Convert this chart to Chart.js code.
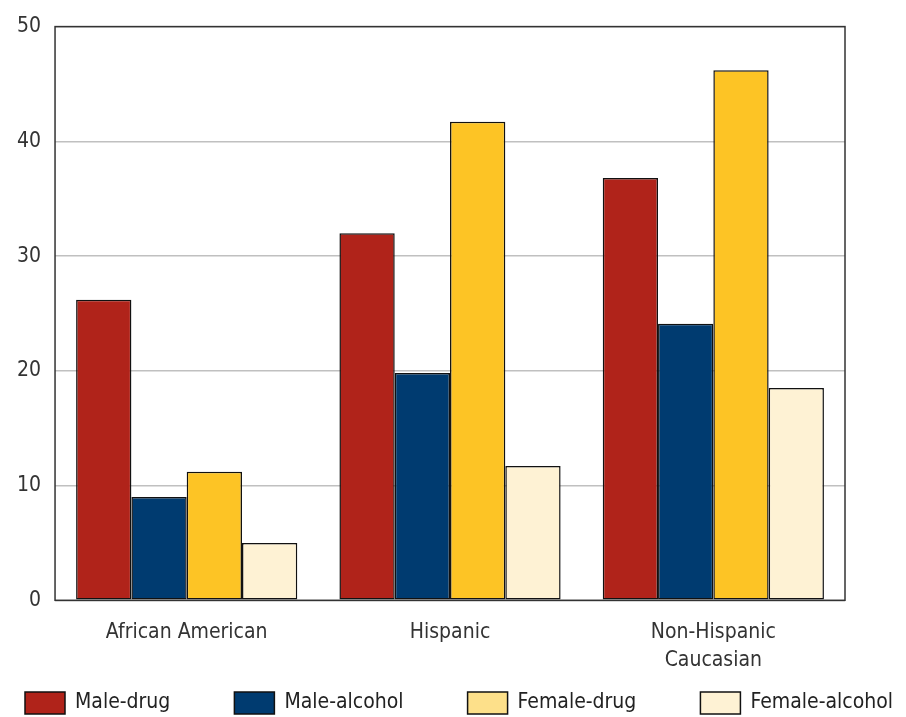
<!DOCTYPE html>
<html><head><meta charset="utf-8">
<script src="https://cdn.jsdelivr.net/npm/chart.js@4/dist/chart.umd.min.js"></script>
<style>html,body{margin:0;padding:0;background:#fff}#wrap{width:906px;height:717px;position:relative}</style>
</head><body><div id="wrap"><canvas id="c"></canvas></div>
<script>
const categories = ['African American', 'Hispanic', ['Non-Hispanic', 'Caucasian']];
const seriesNames = ['Male-drug', 'Male-alcohol', 'Female-drug', 'Female-alcohol'];
const maleDrug = [26.2, 32.0, 36.8];
const maleAlcohol = [9.0, 19.8, 24.1];
const femaleDrug = [11.2, 41.7, 46.2];
const femaleAlcohol = [5.0, 11.7, 18.5];
const yTicks = [0, 10, 20, 30, 40, 50];

const barColors = ['#b0231a', '#003b70', '#fdc425', '#fef2d4'];
const legendColors = ['#b0231a', '#003b70', '#fde08a', '#fef2d4'];
const FONT = '"Liberation Sans Narrow", "DejaVu Sans Condensed", "Roboto", sans-serif';

const frame = {
  id: 'frame',
  afterDatasetsDraw(chart) {
    const {ctx, chartArea: a} = chart;
    ctx.save();
    ctx.strokeStyle = '#333';
    ctx.lineWidth = 1.5;
    ctx.strokeRect(a.left, a.top, a.right - a.left, a.bottom - a.top);
    ctx.restore();
  }
};

const bottomLegend = {
  id: 'bottomLegend',
  afterDraw(chart) {
    const ctx = chart.ctx;
    ctx.save();
    ctx.font = '21px ' + FONT;
    const boxW = 40, boxH = 22, gapText = 10;
    const startX = 25, endX = 893, cy = 703;
    const widths = seriesNames.map(n => boxW + gapText + ctx.measureText(n).width);
    const total = widths.reduce((s, w) => s + w, 0);
    const gap = (endX - startX - total) / (seriesNames.length - 1);
    let x = startX;
    seriesNames.forEach((n, i) => {
      ctx.fillStyle = legendColors[i];
      ctx.fillRect(x, cy - boxH / 2, boxW, boxH);
      ctx.strokeStyle = '#111';
      ctx.lineWidth = 1.5;
      ctx.strokeRect(x, cy - boxH / 2, boxW, boxH);
      ctx.fillStyle = '#222';
      ctx.textBaseline = 'middle';
      ctx.textAlign = 'left';
      ctx.fillText(n, x + boxW + gapText, cy);
      x += widths[i] + gap;
    });
    ctx.restore();
  }
};

const allSeries = [maleDrug, maleAlcohol, femaleDrug, femaleAlcohol];
new Chart(document.getElementById('c'), {
  type: 'bar',
  data: {
    labels: categories,
    datasets: allSeries.map((d, i) => ({
      label: seriesNames[i],
      data: d,
      backgroundColor: barColors[i],
      borderColor: '#111',
      borderWidth: 1.5,
      borderSkipped: false,
      barPercentage: 1.0,
      categoryPercentage: 0.84
    }))
  },
  options: {
    responsive: true,
    maintainAspectRatio: false,
    animation: false,
    layout: {padding: {left: 3, right: 61, top: 14, bottom: 24}},
    plugins: {
      tooltip: {enabled: false},
      legend: {display: false}
    },
    scales: {
      x: {
        grid: {display: false, drawTicks: false},
        border: {display: false},
        ticks: {font: {family: FONT, size: 21, lineHeight: 1.35}, color: '#333', padding: 18}
      },
      y: {
        min: 0, max: 50,
        afterBuildTicks(scale) { scale.ticks = yTicks.map(v => ({value: v})); },
        grid: {color: '#c0c0c0', lineWidth: 1.5, drawTicks: false},
        border: {display: false},
        ticks: {font: {family: FONT, size: 21}, color: '#333', padding: 14}
      }
    }
  },
  plugins: [frame, bottomLegend]
});
</script></body></html>
